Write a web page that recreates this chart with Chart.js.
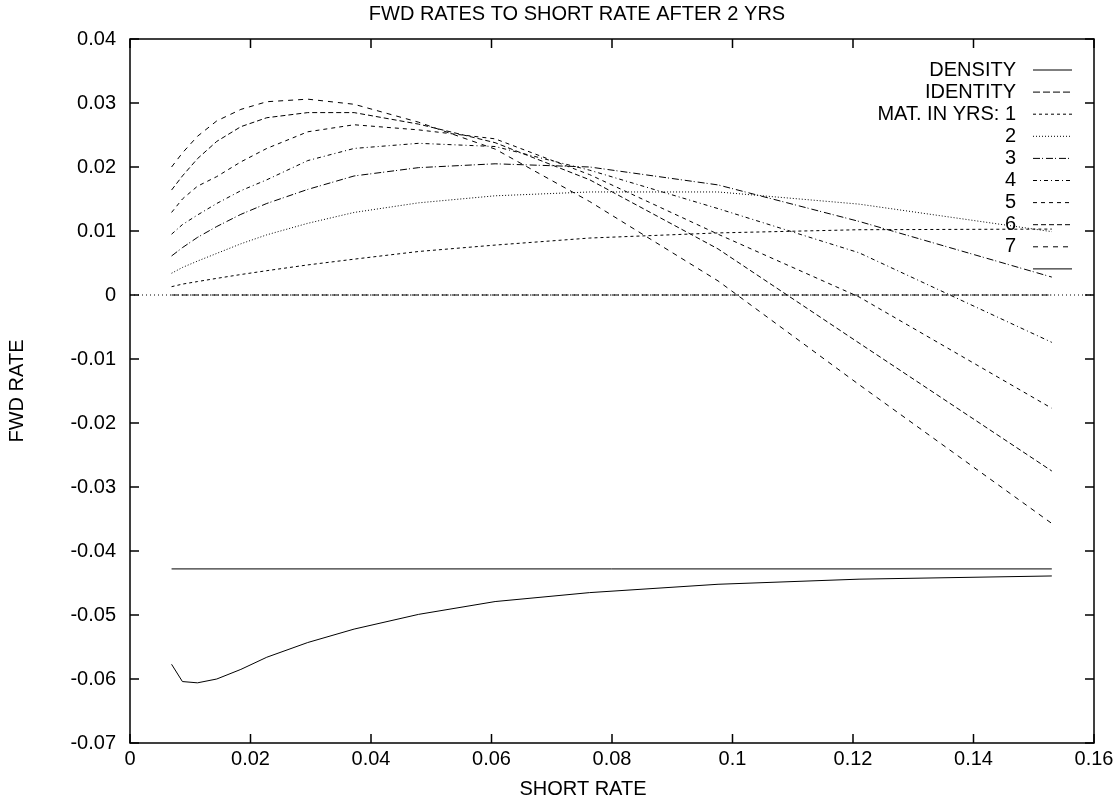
<!DOCTYPE html>
<html>
<head>
<meta charset="utf-8">
<title>FWD RATES TO SHORT RATE AFTER 2 YRS</title>
<script src="https://cdn.jsdelivr.net/npm/chart.js@4.4.0/dist/chart.umd.min.js"></script>
<style>
html, body { margin: 0; padding: 0; background: #fff; }
#wrap { width: 1120px; height: 801px; }
</style>
</head>
<body>
<div id="wrap"><canvas id="fwdChart" width="1120" height="801"></canvas></div>
<script>
// values (short rate grid shared by all curves)
var shortRate = [0.0069, 0.0087, 0.0112, 0.0144, 0.0184, 0.0227, 0.0295, 0.0372, 0.0479, 0.0606, 0.0763, 0.0976, 0.121, 0.153];

var density = [-0.0577, -0.0604, -0.0606, -0.0600, -0.0585, -0.0566, -0.0543, -0.0522, -0.0499, -0.0479, -0.0465, -0.0452, -0.0444, -0.0439];
var mat1 = [0.0013, 0.0017, 0.0021, 0.0026, 0.0032, 0.0038, 0.0047, 0.0056, 0.0068, 0.0078, 0.0089, 0.0097, 0.0102, 0.0103];
var mat2 = [0.0034, 0.0043, 0.0053, 0.0065, 0.0080, 0.0094, 0.0112, 0.0129, 0.0144, 0.0155, 0.0161, 0.0161, 0.0142, 0.0099];
var mat3 = [0.0061, 0.0074, 0.0090, 0.0107, 0.0126, 0.0143, 0.0165, 0.0186, 0.0199, 0.0205, 0.0200, 0.0172, 0.0115, 0.0028];
var mat4 = [0.0095, 0.0110, 0.0125, 0.0143, 0.0163, 0.0180, 0.0210, 0.0229, 0.0237, 0.0232, 0.0195, 0.0135, 0.0066, -0.0074];
var mat5 = [0.0129, 0.0150, 0.0170, 0.0185, 0.0208, 0.0229, 0.0255, 0.0266, 0.0258, 0.0244, 0.0188, 0.0095, -0.0003, -0.0177];
var mat6 = [0.0164, 0.0186, 0.0213, 0.0240, 0.0263, 0.0277, 0.0285, 0.0285, 0.0267, 0.0238, 0.0180, 0.0072, -0.0075, -0.0275];
var mat7 = [0.0200, 0.0222, 0.0248, 0.0272, 0.0290, 0.0302, 0.0306, 0.0298, 0.0270, 0.0228, 0.0146, 0.0022, -0.0140, -0.0357];

// straight lines: ends of the curves and the whole x range
var lineEnds = [0.0069, 0.153];
var identity = [0, 0];
var densityBase = [-0.0428, -0.0428];
var zeroAxisX = [0, 0.16];
var zeroAxis = [0, 0];

var xTickLabels = ["0", "0.02", "0.04", "0.06", "0.08", "0.1", "0.12", "0.14", "0.16"];
var yTickLabels = ["-0.07", "-0.06", "-0.05", "-0.04", "-0.03", "-0.02", "-0.01", "0", "0.01", "0.02", "0.03", "0.04"];

var FONT = "'Liberation Sans', Arial, sans-serif";

function points(xs, ys) { // pair up x and y arrays for the scatter datasets
    var out = [];
    for (var i = 0; i < xs.length; i++) {
        out.push({ x: xs[i], y: ys[i] });
    }
    return out;
}

function series(label, xs, ys, dash) {
    return {
        label: label,
        data: points(xs, ys),
        showLine: true,
        borderColor: "#000",
        borderWidth: 1,
        borderDash: dash,
        pointRadius: 0,
        tension: 0,
        fill: false
    };
}

var datasets = [
    series("DENSITY", shortRate, density, []),
    series("IDENTITY", lineEnds, identity, [7, 3]),
    series("MAT. IN YRS: 1", shortRate, mat1, [3, 3]),
    series("2", shortRate, mat2, [1, 2]),
    series("3", shortRate, mat3, [7, 2, 1, 3]),
    series("4", shortRate, mat4, [4, 3, 1, 3]),
    series("5", shortRate, mat5, [4, 4]),
    series("6", shortRate, mat6, [5, 3]),
    series("7", shortRate, mat7, [5, 5]),
    series("", lineEnds, densityBase, [])
];
var zeroSet = series(null, zeroAxisX, zeroAxis, [1, 3]); // gnuplot zero axis, not in the key
zeroSet.inKey = false;
datasets.unshift(zeroSet);

// frame, inward ticks, titles and the gnuplot style key
var gnuplotLook = {
    id: "gnuplotLook",
    afterDraw: function (chart) {
        var ctx = chart.ctx;
        var area = chart.chartArea;
        var xs = chart.scales.x;
        var ys = chart.scales.y;
        var tick = 9;
        ctx.save();
        ctx.strokeStyle = "#000";
        ctx.lineWidth = 1.5;
        ctx.strokeRect(area.left, area.top, area.right - area.left, area.bottom - area.top);
        ctx.beginPath();
        xs.ticks.forEach(function (t) {
            var px = xs.getPixelForValue(t.value);
            ctx.moveTo(px, area.bottom); ctx.lineTo(px, area.bottom - tick);
            ctx.moveTo(px, area.top); ctx.lineTo(px, area.top + tick);
        });
        ys.ticks.forEach(function (t) {
            var py = ys.getPixelForValue(t.value);
            ctx.moveTo(area.left, py); ctx.lineTo(area.left + tick, py);
            ctx.moveTo(area.right, py); ctx.lineTo(area.right - tick, py);
        });
        ctx.stroke();

        ctx.fillStyle = "#000";
        ctx.font = "20px " + FONT;
        ctx.textAlign = "center";
        ctx.textBaseline = "middle";
        ctx.fillText("FWD RATES TO SHORT RATE AFTER 2 YRS", 577, 14);
        ctx.fillText("SHORT RATE", 583, 789);
        ctx.save();
        ctx.translate(17, (area.top + area.bottom) / 2);
        ctx.rotate(-Math.PI / 2);
        ctx.fillText("FWD RATE", 0, 0);
        ctx.restore();

        // key, top right inside the frame
        var row = 0;
        ctx.textAlign = "right";
        ctx.lineWidth = 1;
        chart.data.datasets.forEach(function (ds) {
            if (ds.inKey === false) return;
            var y = 70 + row * 22.1;
            ctx.fillText(ds.label, 1016, y);
            ctx.setLineDash(ds.borderDash);
            ctx.beginPath();
            ctx.moveTo(1033, y);
            ctx.lineTo(1072, y);
            ctx.stroke();
            ctx.setLineDash([]);
            row++;
        });
        ctx.restore();
    }
};

var ctx = document.getElementById("fwdChart");
var fwdChart = new Chart(ctx, {
    type: "scatter",
    data: { datasets: datasets },
    options: {
        responsive: false,
        animation: false,
        devicePixelRatio: 1,
        layout: { padding: { top: 39, right: 26, left: 0, bottom: 0 } },
        plugins: {
            legend: { display: false },
            tooltip: { enabled: false },
            title: { display: false }
        },
        scales: {
            x: {
                type: "linear",
                min: 0,
                max: 0.16,
                grid: { display: false, drawTicks: false },
                border: { display: false },
                afterFit: function (scale) { scale.height = 58; },
                ticks: {
                    stepSize: 0.02,
                    padding: 4,
                    color: "#000",
                    font: { family: FONT, size: 20 },
                    maxRotation: 0,
                    autoSkip: false,
                    callback: function (value, index) { return xTickLabels[index]; }
                }
            },
            y: {
                type: "linear",
                min: -0.07,
                max: 0.04,
                grid: { display: false, drawTicks: false },
                border: { display: false },
                afterFit: function (scale) { scale.width = 130; },
                ticks: {
                    stepSize: 0.01,
                    padding: 14,
                    color: "#000",
                    font: { family: FONT, size: 20 },
                    autoSkip: false,
                    callback: function (value, index) { return yTickLabels[index]; }
                }
            }
        }
    },
    plugins: [gnuplotLook]
});
</script>
</body>
</html>
